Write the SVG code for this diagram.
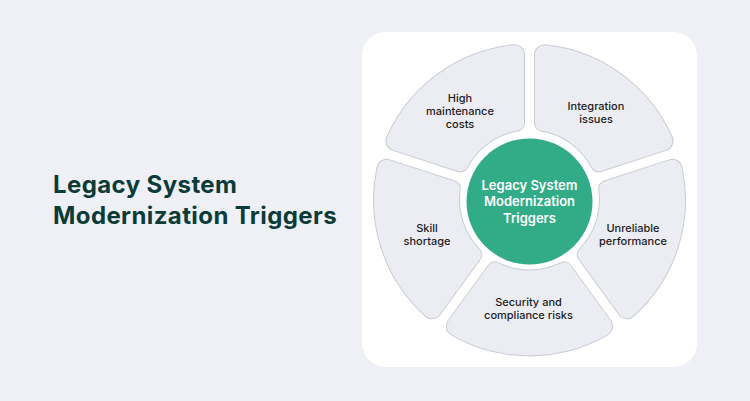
<svg xmlns="http://www.w3.org/2000/svg" xmlns:xlink="http://www.w3.org/1999/xlink" width="750" height="401" viewBox="0 0 750 401">
  <style>
    .title { font-family: Inter, "Noto Sans", "Liberation Sans", sans-serif; font-weight: 700; font-size: 24px; letter-spacing: 0.4px; fill: #0b3b38; }
    .seg { fill: #ecedf3; stroke: #c8cbd6; stroke-width: 1; }
    .lbl { font-family: Inter, "Noto Sans", "Liberation Sans", sans-serif; font-weight: 500; font-size: 11px; fill: #1c1c1f; text-anchor: middle; }
    .ctr { font-family: Inter, "Noto Sans", "Liberation Sans", sans-serif; font-weight: 600; font-size: 13px; fill: #ffffff; text-anchor: middle; }
  </style>
  <defs>
    <path id="segpath" d="M65.16,-41.16 L120.43,-81.32 A10,10 0 0 1 134.96,-78.24 A156,156 0 0 1 134.96,78.24 A10,10 0 0 1 120.43,81.32 L65.16,41.16 A8,8 0 0 1 62.70,31.13 A70,70 0 0 0 62.70,-31.13 A8,8 0 0 1 65.16,-41.16 Z"/>
  </defs>
  <rect x="0" y="0" width="750" height="401" fill="#eef0f5"/>
  <g id="heading">
    <text class="title" x="53" y="193">Legacy System</text>
    <text class="title" x="53" y="224">Modernization Triggers</text>
  </g>
  <rect x="362" y="32" width="335" height="335" rx="24" ry="24" fill="#ffffff"/>
  <g id="connectors"></g>
  <g id="node-high-maintenance">
    <use xlink:href="#segpath" class="seg" transform="translate(529.5,200) rotate(234)"/>
    <text class="lbl" x="460" y="102">High</text>
    <text class="lbl" x="460" y="115">maintenance</text>
    <text class="lbl" x="460" y="128">costs</text>
  </g>
  <g id="node-integration">
    <use xlink:href="#segpath" class="seg" transform="translate(529.5,200) rotate(306)"/>
    <text class="lbl" x="596" y="109.5">Integration</text>
    <text class="lbl" x="596" y="122.5">issues</text>
  </g>
  <g id="node-unreliable">
    <use xlink:href="#segpath" class="seg" transform="translate(529.5,200) rotate(18)"/>
    <text class="lbl" x="633" y="231.5">Unreliable</text>
    <text class="lbl" x="633" y="244.5">performance</text>
  </g>
  <g id="node-security">
    <use xlink:href="#segpath" class="seg" transform="translate(529.5,200) rotate(90)"/>
    <text class="lbl" x="528.5" y="306">Security and</text>
    <text class="lbl" x="528.5" y="319">compliance risks</text>
  </g>
  <g id="node-skill">
    <use xlink:href="#segpath" class="seg" transform="translate(529.5,200) rotate(162)"/>
    <text class="lbl" x="427" y="231.5">Skill</text>
    <text class="lbl" x="427" y="244.5">shortage</text>
  </g>
  <g id="node-center">
    <circle cx="529.5" cy="201.5" r="63" fill="#32ab87"/>
    <text class="ctr" x="529.5" y="189.5">Legacy System</text>
    <text class="ctr" x="529.5" y="206">Modernization</text>
    <text class="ctr" x="529.5" y="222.5">Triggers</text>
  </g>
</svg>
